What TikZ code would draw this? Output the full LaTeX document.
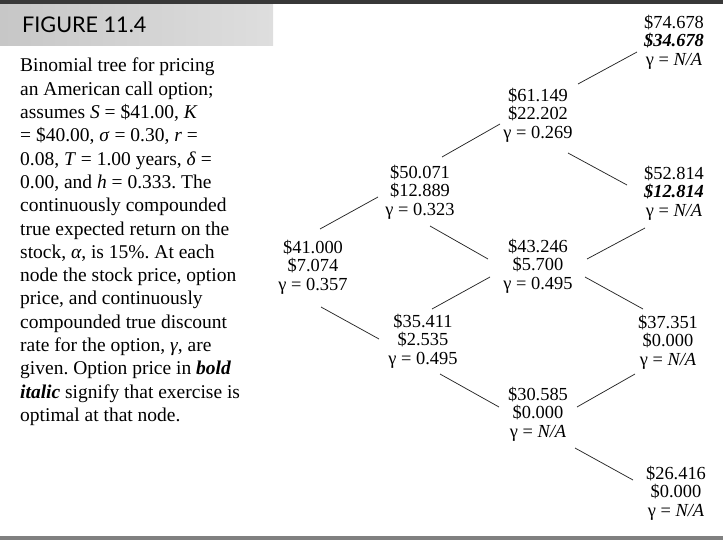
\documentclass[tikz,border=0pt]{standalone}
\usepackage{fontspec}
\setmainfont{Liberation Serif}
\newfontfamily\titlefont{Lato}
\frenchspacing
\begin{document}
\begin{tikzpicture}[x=1pt,y=-1pt,
    nodo/.style={align=center, inner sep=0pt, font=\fontsize{18.4}{18.6}\selectfont},
    rama/.style={line width=0.75pt, black!85}]
  \useasboundingbox (0,0) rectangle (723,541);

  % barras y cabecera
  \fill[black!78] (0,0) rectangle (723,4);
  \fill[black!50] (0,536) rectangle (723,540);
  \shade[left color=black!22, right color=black!13] (0,4) rectangle (273,45);
  \node[anchor=base west, inner sep=0pt, font=\titlefont\fontsize{21.6}{21.6}\selectfont] (titulo) at (22,32.5) {FIGURE 11.4};

  % texto explicativo
  \node[anchor=north west, align=left, inner sep=0pt, font=\fontsize{19.5}{23.3}\selectfont] (texto) at (20,58) {%
    Binomial tree for pricing\\
    an American call option;\\
    assumes \textit{S} = \$41.00, \textit{K}\\
    = \$40.00, \textit{σ} = 0.30, \textit{r} =\\
    0.08, \textit{T} = 1.00 years, \textit{δ} =\\
    0.00, and \textit{h} = 0.333. The\\
    continuously compounded\\
    true expected return on the\\
    stock, \textit{α}, is 15\%. At each\\
    node the stock price, option\\
    price, and continuously\\
    compounded true discount\\
    rate for the option, \textit{γ}, are\\
    given. Option price in \textbf{\textit{bold}}\\
    \textbf{\textit{italic}} signify that exercise is\\
    optimal at that node.};

  % nodos del arbol
  \node[nodo] (A) at (313,267) {\$41.000\\\$7.074\\γ = 0.357};
  \node[nodo] (B) at (420,192) {\$50.071\\\$12.889\\γ = 0.323};
  \node[nodo] (C) at (423,341) {\$35.411\\\$2.535\\γ = 0.495};
  \node[nodo] (D) at (538,115) {\$61.149\\\$22.202\\γ = 0.269};
  \node[nodo] (E) at (538,266) {\$43.246\\\$5.700\\γ = 0.495};
  \node[nodo] (F) at (538,414) {\$30.585\\\$0.000\\γ = \textit{N/A}};
  \node[nodo] (G) at (674,42)  {\$74.678\\\textbf{\textit{\$34.678}}\\γ = \textit{N/A}};
  \node[nodo] (H) at (674,193) {\$52.814\\\textbf{\textit{\$12.814}}\\γ = \textit{N/A}};
  \node[nodo] (I) at (668,342) {\$37.351\\\$0.000\\γ = \textit{N/A}};
  \node[nodo] (J) at (676,493) {\$26.416\\\$0.000\\γ = \textit{N/A}};

  % ramas
  \draw[rama] ([shift={(7,-38)}]A.center) -- ([shift={(-42,5)}]B.center);
  \draw[rama] ([shift={(8,40)}]A.center) -- ([shift={(-44,-2)}]C.center);
  \draw[rama] ([shift={(22,-35)}]B.center) -- ([shift={(-38,9)}]D.center);
  \draw[rama] ([shift={(10,34)}]B.center) -- ([shift={(-50,-7)}]E.center);
  \draw[rama] ([shift={(9,-32)}]C.center) -- ([shift={(-48,11)}]E.center);
  \draw[rama] ([shift={(17,33)}]C.center) -- ([shift={(-39,-7)}]F.center);
  \draw[rama] ([shift={(40,-31)}]D.center) -- ([shift={(-37,10)}]G.center);
  \draw[rama] ([shift={(30,38)}]D.center) -- ([shift={(-47,-8)}]H.center);
  \draw[rama] ([shift={(49,-7)}]E.center) -- ([shift={(-29,35)}]H.center);
  \draw[rama] ([shift={(47,11)}]E.center) -- ([shift={(-25,-33)}]I.center);
  \draw[rama] ([shift={(39,-7)}]F.center) -- ([shift={(-33,32)}]I.center);
  \draw[rama] ([shift={(37,34)}]F.center) -- ([shift={(-43,-13)}]J.center);
\end{tikzpicture}
\end{document}
